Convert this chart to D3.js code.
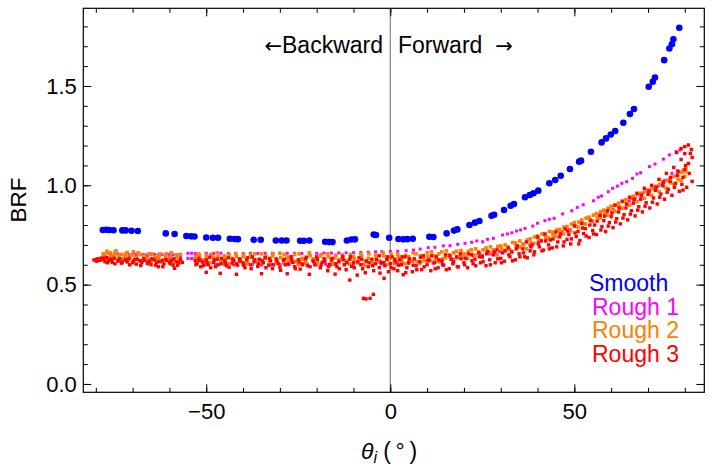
<!DOCTYPE html>
<html>
<head>
<meta charset="utf-8">
<script src="https://cdn.jsdelivr.net/npm/d3@7"></script>
<style>
body { margin: 0; background: #fff; }
text { font-family: "Liberation Sans", Arial, sans-serif; }
</style>
</head>
<body>
<svg id="chart" width="714" height="472"></svg>
<script>
// Values: [theta_i (deg), BRF]
const smooth = [
  [-78.1,0.775],[-77.2,0.776],[-76.4,0.775],[-75.2,0.774],[-72.8,0.773],[-71.9,0.773],[-70.3,0.771],[-68.6,0.770],
  [-61.0,0.758],[-58.6,0.755],[-55.4,0.745],[-54.1,0.743],[-53.2,0.742],[-50.0,0.737],[-48.2,0.736],[-46.8,0.736],
  [-43.6,0.731],[-42.3,0.730],[-41.4,0.729],[-37.1,0.726],[-35.2,0.726],[-31.1,0.722],[-29.5,0.722],[-28.2,0.722],
  [-24.5,0.721],[-23.5,0.721],[-22.0,0.722],[-17.7,0.716],[-16.6,0.714],[-15.7,0.714],[-11.8,0.722],[-10.6,0.727],
  [-9.6,0.728],[-4.5,0.752],[-3.9,0.750],[-0.3,0.736],[2.2,0.730],[3.5,0.728],[4.6,0.729],[6.1,0.731],
  [10.6,0.741],[11.7,0.740],[15.3,0.758],[17.3,0.772],[18.2,0.778],[21.5,0.800],[23.0,0.812],[24.2,0.820],
  [27.5,0.847],[28.2,0.852],[30.9,0.876],[32.7,0.897],[33.6,0.906],[36.6,0.940],[37.9,0.951],[38.9,0.960],
  [40.2,0.973],[43.2,1.010],[44.8,1.027],[46.3,1.048],[48.8,1.082],[51.3,1.119],[51.8,1.124],[54.5,1.169],
  [57.4,1.216],[58.6,1.236],[59.9,1.256],[61.1,1.273],[63.3,1.315],[65.1,1.359],[66.2,1.384],[70.2,1.496],
  [71.3,1.521],[71.9,1.543],[74.4,1.630],[75.8,1.689],[76.5,1.710],[76.9,1.735],[78.5,1.793]
];

const rough1 = [
  // upper branch
  [-76,0.653],[-75,0.652],[-74,0.654],[-73,0.652],[-72,0.653],[-71,0.651],[-70,0.652],[-69,0.653],[-68,0.651],
  [-67,0.652],[-66,0.650],[-65,0.651],[-64,0.652],[-63,0.650],[-62,0.651],[-61,0.650],[-60,0.652],[-59,0.650],
  [-58,0.651],[-57,0.650],[-55,0.658],[-54,0.658],[-53,0.657],
  [-50,0.658],[-48,0.657],[-46,0.658],[-44,0.657],[-42,0.658],[-40,0.657],[-38,0.658],[-36,0.657],[-34,0.658],
  [-32,0.658],[-30,0.657],[-28,0.658],[-26,0.658],[-24,0.657],[-22,0.658],[-20,0.658],[-18,0.659],[-16,0.659],
  [-14,0.660],[-12,0.660],[-10,0.661],[-8,0.662],[-6,0.663],[-4,0.665],[-2.3,0.666],[0,0.668],[2,0.668],
  [4.3,0.671],[6.3,0.674],[8.1,0.679],[10.3,0.686],[12.1,0.688],[14.4,0.695],[16.2,0.696],[18.3,0.703],
  [20.3,0.708],[22.1,0.713],[23.5,0.720],[25.1,0.716],[26.4,0.728],[28.0,0.733],[30.5,0.750],[31.8,0.755],
  [33.0,0.761],[34.3,0.770],[35.4,0.775],[36.6,0.783],[38.7,0.795],[40.0,0.809],[42.0,0.822],[43.2,0.829],
  [44.5,0.834],[46.8,0.856],[49.3,0.872],[50.8,0.889],[52.4,0.902],[55.2,0.922],[56.5,0.940],[57.4,0.946],
  [59.2,0.968],[60.4,0.985],[61.7,0.996],[62.9,1.010],[64.2,1.018],[65.8,1.035],[67.0,1.057],[68.0,1.063],
  [70.4,1.094],[71.9,1.107],[74.2,1.132],[75.8,1.153],[77.6,1.169],[78.7,1.178],
  // lower branch
  [-75,0.640],[-72,0.638],[-69,0.640],[-66,0.637],[-63,0.639],[-60,0.636],[-57,0.637],
  [-55,0.632],[-54,0.631],[-53,0.632],[-52,0.630],
  [-50,0.602],[-47.5,0.600],[-45,0.601],[-42.5,0.599],[-40,0.600],[-37.5,0.600],[-35,0.599],[-32.5,0.600],
  [-30,0.601],[-27.5,0.600],[-25,0.600],[-22.5,0.601],[-20,0.600],[-17.5,0.602],[-15,0.601],[-12.5,0.602],
  [-10,0.603],[-7.5,0.603],[-5,0.604],[-2.5,0.604],[0,0.605],[2,0.605],[5,0.606],[8,0.607],[11.6,0.608],
  [14,0.615],[17.1,0.628],[20,0.636],[22.6,0.644],[25,0.648],[27.1,0.654],[28.5,0.658],[29.8,0.666],
  [32.5,0.676],[35.2,0.688],[37.9,0.700],[40.2,0.716],[42.5,0.733],[44.5,0.750],[46.6,0.767],[48.8,0.778],
  [50.5,0.795],[52.0,0.808],[54.3,0.829],[57.0,0.856],[58.8,0.867],[60.5,0.880],[62.0,0.892],[64.9,0.922],
  [66.5,0.934],[68.7,0.962],[70.5,0.975],[72.8,0.996],[74.5,1.025],[76.5,1.060],[78.0,1.073]
];

const rough2 = [
  [-78,0.655],[-77.5,0.640],[-77,0.668],[-76.5,0.632],[-76,0.660],[-75,0.645],[-74.5,0.670],[-74,0.628],
  [-73,0.652],[-72,0.640],[-71.5,0.662],[-71,0.625],[-70,0.648],[-69,0.635],[-68.5,0.660],[-68,0.620],
  [-67,0.645],[-66,0.632],[-65.5,0.655],[-65,0.618],[-64,0.640],[-63,0.628],[-62.5,0.655],[-62,0.615],
  [-61,0.645],[-60,0.625],[-59.5,0.660],[-59,0.612],[-58,0.638],[-57.5,0.620],[-57,0.652],
  [-77.8,0.648],[-76.8,0.658],[-75.8,0.638],[-74.8,0.662],[-73.8,0.645],[-72.8,0.630],[-71.8,0.655],
  [-70.8,0.640],[-69.8,0.665],[-68.8,0.628],[-67.8,0.652],[-66.8,0.640],[-65.8,0.625],[-64.8,0.655],
  [-63.8,0.635],[-62.8,0.645],[-61.8,0.625],[-60.8,0.655],[-59.8,0.638],[-58.8,0.620],[-57.8,0.650],
  [-53,0.640],[-52.5,0.615],[-52,0.655],[-51,0.625],[-50,0.648],[-49,0.610],[-48,0.638],[-47,0.660],
  [-46,0.620],[-45,0.645],[-44,0.605],[-43,0.632],[-42,0.655],[-41,0.615],[-40,0.640],[-39,0.605],
  [-38,0.650],[-37,0.625],[-36,0.610],[-35,0.655],[-34,0.632],[-33,0.602],[-32,0.645],[-31,0.620],
  [-30,0.658],[-29,0.608],[-28,0.638],[-27,0.615],[-26,0.652],[-25,0.600],[-24,0.632],[-23,0.612],
  [-22,0.660],[-21,0.625],[-20,0.605],[-19,0.645],[-18,0.618],[-17,0.655],[-16,0.600],[-15,0.635],
  [-14,0.612],[-13,0.650],[-12,0.620],[-11,0.603],[-10,0.640],[-9,0.615],[-8,0.655],[-7,0.598],
  [-6,0.632],[-5,0.610],[-4,0.648],[-3,0.620],[-2,0.660],[-1,0.600],[0,0.635],[1,0.612],[2,0.652],
  [-52.8,0.628],[-51.8,0.645],[-50.8,0.612],[-49.8,0.635],[-48.8,0.652],[-47.8,0.622],[-46.8,0.640],
  [-45.8,0.608],[-44.8,0.630],[-43.8,0.650],[-42.8,0.618],[-41.8,0.642],[-40.8,0.625],[-39.8,0.652],
  [-38.8,0.612],[-37.8,0.638],[-36.8,0.655],[-35.8,0.625],[-34.8,0.610],[-33.8,0.645],[-32.8,0.622],
  [-31.8,0.655],[-30.8,0.610],[-29.8,0.635],[-28.8,0.652],[-27.8,0.625],[-26.8,0.640],[-25.8,0.615],
  [-24.8,0.655],[-23.8,0.628],[-22.8,0.608],[-21.8,0.645],[-20.8,0.630],[-19.8,0.615],[-18.8,0.652],
  [-17.8,0.628],[-16.8,0.640],[-15.8,0.610],[-14.8,0.648],[-13.8,0.625],[-12.8,0.640],[-11.8,0.615],
  [-10.8,0.652],[-9.8,0.628],[-8.8,0.610],[-7.8,0.645],[-6.8,0.620],[-5.8,0.655],[-4.8,0.605],
  [-3.8,0.638],[-2.8,0.615],[-1.8,0.645],[-0.8,0.625],[0.2,0.655],[1.2,0.605],[2.2,0.640],
  [3,0.625],[4,0.605],[5,0.640],[6,0.618],[7,0.655],[8,0.610],[9,0.635],[10,0.660],[11,0.620],
  [12,0.645],[13,0.615],[14,0.665],[15,0.635],[16,0.650],[17,0.620],[18,0.668],[19,0.640],[20,0.655],
  [21,0.632],[22,0.675],[23,0.648],[24,0.665],[25,0.640],[26,0.685],[27,0.660],[28,0.675],[29,0.650],
  [30,0.695],[31,0.672],[32,0.690],[33,0.665],[34,0.710],[35,0.688],[36,0.705],[37,0.680],[38,0.730],
  [39,0.708],[40,0.745],[41,0.722],[42,0.752],[43,0.735],[44,0.765],[45,0.742],[46,0.778],[47,0.755],
  [48,0.792],[49,0.770],[50,0.812],[51,0.790],[52,0.825],[53,0.805],[54,0.840],[55,0.818],[56,0.858],
  [57,0.835],[58,0.875],[59,0.850],[60,0.895],[61,0.870],[62,0.910],[63,0.885],[64,0.928],[65,0.900],
  [66,0.945],[67,0.918],[68,0.960],[69,0.935],[70,0.978],[71,0.950],[72,0.995],[73,0.968],[74,1.015],
  [75,0.985],[76,1.035],[77,1.005],[78,1.055],[79,1.025],[79.5,1.075],[80,1.045],[80.3,1.085],
  [3.2,0.612],[4.2,0.648],[5.2,0.625],[6.2,0.660],[7.2,0.615],[8.2,0.645],[9.2,0.620],[10.2,0.640],
  [11.2,0.665],[12.2,0.625],[13.2,0.655],[14.2,0.630],[15.2,0.670],[16.2,0.640],[17.2,0.660],[18.2,0.635],
  [19.2,0.672],[20.2,0.645],[21.2,0.668],[22.2,0.652],[23.2,0.680],[24.2,0.655],[25.2,0.675],[26.2,0.662],
  [27.2,0.690],[28.2,0.668],[29.2,0.692],[30.2,0.680],[31.2,0.700],[32.2,0.678],[33.2,0.712],[34.2,0.695],
  [35.2,0.720],[36.2,0.700],[37.2,0.725],[38.2,0.710],[39.2,0.740],[40.2,0.730],[41.2,0.755],[42.2,0.738],
  [43.2,0.768],[44.2,0.750],[45.2,0.775],[46.2,0.765],[47.2,0.790],[48.2,0.775],[49.2,0.805],[50.2,0.795],
  [51.2,0.815],[52.2,0.810],[53.2,0.835],[54.2,0.825],[55.2,0.850],[56.2,0.840],[57.2,0.868],[58.2,0.860],
  [59.2,0.885],[60.2,0.875],[61.2,0.900],[62.2,0.892],[63.2,0.918],[64.2,0.910],[65.2,0.935],[66.2,0.925],
  [67.2,0.952],[68.2,0.942],[69.2,0.970],[70.2,0.960],[71.2,0.985],[72.2,0.975],[73.2,1.005],[74.2,0.995],
  [75.2,1.025],[76.2,1.012],[77.2,1.045],[78.2,1.030],[79.2,1.065],[80.2,1.070]
];

const rough3 = [
  [-80.5,0.624],[-80,0.626],[-79.5,0.630],[-79,0.622],[-78.5,0.634],[-78,0.625],[-77.5,0.615],[-77,0.636],
  [-76.5,0.620],[-76,0.628],[-75.5,0.612],[-75,0.632],[-74,0.618],[-73.5,0.630],[-73,0.608],[-72,0.624],
  [-71.5,0.614],[-71,0.632],[-70,0.610],[-69.5,0.626],[-69,0.603],[-68,0.620],[-67.5,0.612],[-67,0.630],
  [-66,0.606],[-65.5,0.618],[-65,0.600],[-64,0.624],[-63.5,0.610],[-63,0.590],[-62,0.620],[-61.5,0.604],
  [-61,0.628],[-60,0.612],[-59.5,0.622],[-59,0.598],[-58.6,0.582],[-58,0.615],[-57.5,0.608],[-57,0.625],
  [-79.8,0.618],[-78.8,0.628],[-77.8,0.632],[-76.8,0.610],[-75.8,0.624],[-74.8,0.605],[-73.8,0.622],
  [-72.8,0.614],[-71.8,0.626],[-70.8,0.600],[-69.8,0.618],[-68.8,0.628],[-67.8,0.596],[-66.8,0.622],
  [-65.8,0.612],[-64.8,0.630],[-63.8,0.598],[-62.8,0.616],[-61.8,0.590],[-60.8,0.622],[-59.8,0.605],
  [-58.8,0.630],[-57.8,0.598],[-56.5,0.612],
  [-53,0.620],[-52.5,0.605],[-52,0.632],[-51.5,0.590],[-51,0.614],[-50,0.562],[-50,0.625],[-49.5,0.600],
  [-49,0.638],[-48,0.612],[-47.5,0.590],[-47,0.628],[-46.2,0.557],[-46,0.605],[-45,0.620],[-44.5,0.595],
  [-44,0.635],[-43,0.608],[-42.5,0.622],[-41.8,0.552],[-41.5,0.598],[-41,0.630],[-40,0.610],[-39.5,0.585],
  [-39,0.625],[-38,0.600],[-37.5,0.640],[-37,0.615],[-36,0.592],[-35.5,0.628],[-35,0.555],[-34.5,0.610],
  [-34,0.636],[-33,0.598],[-32.5,0.620],[-32,0.580],[-31,0.630],[-30.5,0.607],[-30,0.588],[-29,0.622],
  [-28.5,0.600],[-28,0.555],[-27,0.640],[-26.5,0.612],[-26,0.590],[-25,0.625],[-24.5,0.578],[-24,0.605],
  [-23,0.630],[-22.5,0.595],[-22,0.552],[-21,0.620],[-20.5,0.600],[-20,0.640],[-19,0.585],[-18.5,0.612],
  [-18,0.630],[-17,0.570],[-16.5,0.602],[-16,0.625],[-15,0.553],[-14.5,0.590],[-14,0.618],[-13,0.640],
  [-12.5,0.600],[-12,0.575],[-11,0.523],[-11,0.628],[-10.5,0.592],[-10,0.610],[-9,0.548],[-8.5,0.635],
  [-8,0.600],[-7.5,0.580],[-7.3,0.431],[-6.6,0.428],[-6.5,0.618],[-6,0.590],[-5.5,0.431],[-5,0.628],
  [-4.6,0.451],[-4.5,0.570],[-4,0.605],[-3,0.645],[-3,0.585],[-2.5,0.612],[-1.7,0.532],[-1.5,0.595],
  [-1,0.628],[-0.5,0.565],[0,0.605],[0.5,0.640],[1,0.580],[1.5,0.615],
  [-52.8,0.600],[-51.8,0.622],[-50.8,0.596],[-49.8,0.612],[-48.8,0.585],[-47.8,0.625],[-46.8,0.600],
  [-45.8,0.632],[-44.8,0.610],[-43.8,0.588],[-42.8,0.628],[-41.8,0.605],[-40.8,0.620],[-39.8,0.598],
  [-38.8,0.635],[-37.8,0.580],[-36.8,0.625],[-35.8,0.605],[-34.8,0.620],[-33.8,0.585],[-32.8,0.632],
  [-31.8,0.600],[-30.8,0.620],[-29.8,0.572],[-28.8,0.628],[-27.8,0.605],[-26.8,0.625],[-25.8,0.580],
  [-24.8,0.615],[-23.8,0.600],[-22.8,0.638],[-21.8,0.590],[-20.8,0.615],[-19.8,0.628],[-18.8,0.600],
  [-17.8,0.618],[-16.8,0.590],[-15.8,0.632],[-14.8,0.605],[-13.8,0.580],[-12.8,0.625],[-11.8,0.610],
  [-10.8,0.640],[-9.8,0.585],[-8.8,0.615],[-7.8,0.628],[-6.8,0.560],[-5.8,0.610],[-4.8,0.595],
  [-3.8,0.625],[-2.8,0.558],[-1.8,0.610],[-0.8,0.640],[0.2,0.585],[1.2,0.628],[2.2,0.598],
  [2,0.570],[2.5,0.625],[3,0.600],[3.5,0.550],[4,0.640],[4.5,0.585],[5,0.612],[6,0.565],[6.5,0.630],
  [7,0.595],[8,0.615],[8.5,0.575],[9,0.645],[10,0.600],[10.5,0.625],[11,0.570],[12,0.610],[12.5,0.640],
  [13,0.585],[14,0.620],[14.5,0.598],[15,0.650],[16,0.580],[16.5,0.628],[17,0.605],[18,0.640],[18.5,0.590],
  [19,0.655],[20,0.610],[20.5,0.632],[21,0.585],[22,0.650],[22.5,0.605],[23,0.628],[24,0.660],[24.5,0.610],
  [25,0.640],[26,0.595],[26.5,0.668],[27,0.625],[28,0.650],[28.5,0.610],[29,0.675],[30,0.632],[30.5,0.660],
  [31,0.618],[32,0.685],[32.5,0.640],[33,0.665],[34,0.625],[34.5,0.695],[35,0.655],[36,0.680],[36.5,0.640],
  [37,0.715],[38,0.670],[38.5,0.700],[39,0.650],[40,0.740],[40.5,0.690],[41,0.720],[41.6,0.674],[42,0.755],
  [43,0.700],[43.5,0.725],[44,0.685],[45,0.765],[45.5,0.715],[46,0.740],[47,0.695],[47.5,0.780],[48,0.728],
  [48.5,0.752],[49,0.705],[50,0.795],[50.5,0.742],[51,0.768],[51.5,0.722],[52,0.808],[52.5,0.757],[53,0.782],
  [54,0.737],[54.5,0.822],[55,0.772],[55.5,0.800],[56,0.752],[57,0.848],[57.5,0.792],[58,0.822],[58.5,0.767],
  [59,0.872],[59.5,0.812],[60,0.842],[60.5,0.787],[61,0.900],[61.5,0.832],[62,0.866],[62.5,0.806],[63,0.920],
  [63.5,0.852],[64,0.886],[64.5,0.826],[65,0.940],[65.5,0.872],[66,0.910],[66.5,0.846],[67,0.960],[67.5,0.892],
  [68,0.930],[68.5,0.866],[69,0.985],[69.5,0.912],[70,0.955],[70.5,0.886],[71,1.000],[71.5,0.936],[72,0.975],
  [72.5,0.906],[73,1.030],[73.5,0.956],[74,1.000],[74.5,0.930],[75,1.060],[75.5,0.980],[76,1.020],[76.5,0.950],
  [77,1.090],[77.5,1.010],[77.8,1.165],[78,1.050],[78.5,0.970],[79,1.130],[79,1.185],[79.5,1.040],[79.5,0.976],
  [80,1.080],[80,1.160],[80,1.195],[80.5,0.990],[81,1.203],[81,1.110],[81.5,1.160],[82,1.140],[82,1.020],
  [3.2,0.640],[4.2,0.560],[5.2,0.630],[6.2,0.598],[7.2,0.575],[8.2,0.638],[9.2,0.590],[10.2,0.620],
  [11.2,0.645],[12.2,0.580],[13.2,0.625],[14.2,0.600],[15.2,0.575],[16.2,0.645],[17.2,0.615],[18.2,0.590],
  [19.2,0.630],[20.2,0.600],[21.2,0.655],[22.2,0.620],[23.2,0.595],[24.2,0.640],[25.2,0.615],[26.2,0.655],
  [27.2,0.600],[28.2,0.665],[29.2,0.630],[30.2,0.610],[31.2,0.670],[32.2,0.650],[33.2,0.620],[34.2,0.680],
  [35.2,0.640],[36.2,0.660],[37.2,0.635],[38.2,0.690],[39.2,0.665],[40.2,0.705],[41.2,0.670],[42.2,0.720],
  [43.2,0.680],[44.2,0.730],[45.2,0.690],[46.2,0.755],[47.2,0.715],[48.2,0.770],[49.2,0.730],[50.2,0.760],
  [51.2,0.705],[52.2,0.785],[53.2,0.745],[54.2,0.800],[55.2,0.755],[56.2,0.820],[57.2,0.775],[58.2,0.845],
  [59.2,0.795],[60.2,0.860],[61.2,0.815],[62.2,0.885],[63.2,0.835],[64.2,0.905],[65.2,0.855],[66.2,0.930],
  [67.2,0.875],[68.2,0.950],[69.2,0.895],[70.2,0.970],[71.2,0.915],[72.2,0.990],[73.2,0.940],[74.2,1.015],
  [75.2,0.965],[76.2,1.040],[77.2,0.990],[78.2,1.070],[79.2,1.005],[80.2,1.100],[81.2,1.060],[81.8,1.180]
];

const xMajor = [-50, 0, 50];
const xMinor = d3.range(-80, 81, 10);
const yMajor = [0, 0.5, 1.0, 1.5];
const yMinor = d3.range(0, 18.5, 1).map(d => d / 10);
const seriesNames = ["Smooth", "Rough 1", "Rough 2", "Rough 3"];

// Layout
const plotLeft = 83.3, plotRight = 704.3, plotTop = 8.3, plotBottom = 392.3;
const colors = { smooth: "#0000ff", rough1: "#ff00ff", rough2: "#ff8000", rough3: "#ff0000" };

const svg = d3.select("#chart");

const x = d3.scaleLinear().domain([-83.4, 85.3]).range([plotLeft, plotRight]);
const y = d3.scaleLinear().domain([-0.042, 1.891]).range([plotBottom, plotTop]);

// vertical line at theta = 0
svg.append("line")
    .attr("x1", x(0)).attr("x2", x(0))
    .attr("y1", plotTop).attr("y2", plotBottom)
    .style("stroke", "#808080")
    .style("stroke-width", 1.2);

// rough series as squares, in legend order so Rough 3 ends up on top
function drawSquares(data, color, size) {
    svg.append("g").selectAll("rect")
        .data(data)
        .enter().append("rect")
        .attr("x", d => x(d[0]) - size / 2)
        .attr("y", d => y(d[1]) - size / 2)
        .attr("width", size)
        .attr("height", size)
        .style("fill", color);
}
drawSquares(rough1, colors.rough1, 3.0);
drawSquares(rough2, colors.rough2, 3.6);
drawSquares(rough3, colors.rough3, 3.4);

svg.append("g").selectAll("circle")
    .data(smooth)
    .enter().append("circle")
    .attr("cx", d => x(d[0]))
    .attr("cy", d => y(d[1]))
    .attr("r", 3.3)
    .style("fill", colors.smooth);

// frame ticks (pointing inward, like the original)
const tickFont = 22;
function styleAxis(g) {
    g.select(".domain").remove();
    g.selectAll(".tick line").style("stroke", "#000").style("stroke-width", 1);
    g.selectAll("text").style("font-size", tickFont + "px").style("fill", "#000")
        .style("font-family", "'Liberation Sans', Arial, sans-serif");
}

svg.append("g").attr("transform", `translate(0,${plotBottom})`)
    .call(d3.axisBottom(x).tickValues(xMinor).tickSize(-4.5).tickFormat("")).call(styleAxis);
svg.append("g").attr("transform", `translate(0,${plotBottom})`)
    .call(d3.axisBottom(x).tickValues(xMajor).tickSize(-8).tickPadding(10.6).tickFormat(d3.format("d"))).call(styleAxis);
svg.append("g").attr("transform", `translate(0,${plotTop})`)
    .call(d3.axisTop(x).tickValues(xMinor).tickSize(-4.5).tickFormat("")).call(styleAxis);
svg.append("g").attr("transform", `translate(0,${plotTop})`)
    .call(d3.axisTop(x).tickValues(xMajor).tickSize(-8).tickFormat("")).call(styleAxis);

svg.append("g").attr("transform", `translate(${plotLeft},0)`)
    .call(d3.axisLeft(y).tickValues(yMinor).tickSize(-4.5).tickFormat("")).call(styleAxis);
svg.append("g").attr("transform", `translate(${plotLeft},0)`)
    .call(d3.axisLeft(y).tickValues(yMajor).tickSize(-8).tickPadding(6.5).tickFormat(d3.format(".1f"))).call(styleAxis);
svg.append("g").attr("transform", `translate(${plotRight},0)`)
    .call(d3.axisRight(y).tickValues(yMinor).tickSize(-4.5).tickFormat("")).call(styleAxis);
svg.append("g").attr("transform", `translate(${plotRight},0)`)
    .call(d3.axisRight(y).tickValues(yMajor).tickSize(-8).tickFormat("")).call(styleAxis);

// frame
svg.append("rect")
    .attr("x", plotLeft).attr("y", plotTop)
    .attr("width", plotRight - plotLeft).attr("height", plotBottom - plotTop)
    .style("fill", "none").style("stroke", "#000").style("stroke-width", 1.2);

// direction annotations (arrows from DejaVu, which draws them full size)
const back = svg.append("text")
    .attr("x", 383).attr("y", 52.5)
    .attr("text-anchor", "end")
    .style("font-size", "23px");
back.append("tspan").style("font-family", "'DejaVu Sans'").style("font-size", "21px").text("\u2190");
back.append("tspan").text("Backward");

const fwd = svg.append("text")
    .attr("x", 398).attr("y", 52.5)
    .attr("text-anchor", "start")
    .style("font-size", "23px")
    .style("white-space", "pre");
fwd.append("tspan").text("Forward  ");
fwd.append("tspan").style("font-family", "'DejaVu Sans'").style("font-size", "21px").text("\u2192");

// legend
const legendX = [589, 592, 592, 592];
const legendColors = [colors.smooth, colors.rough1, colors.rough2, colors.rough3];
svg.append("g").selectAll("text")
    .data(seriesNames)
    .enter().append("text")
    .attr("x", (d, i) => legendX[i])
    .attr("y", (d, i) => 291 + i * 23.6)
    .style("font-size", "23px")
    .style("fill", (d, i) => legendColors[i])
    .text(d => d);

// axis titles
svg.append("text")
    .attr("transform", "translate(26,200) rotate(-90)")
    .attr("text-anchor", "middle")
    .style("font-size", "22.5px")
    .text("BRF");

const xt = svg.append("text")
    .attr("x", 389).attr("y", 459)
    .attr("text-anchor", "middle")
    .style("font-size", "23px")
    .style("white-space", "pre");
xt.append("tspan").style("font-style", "italic").text("\u03b8");
xt.append("tspan").style("font-style", "italic").style("font-size", "16px").attr("dy", 4).text("i");
xt.append("tspan").attr("dy", -4).text(" (\u2009\u00b0\u2009)");
</script>
</body>
</html>
